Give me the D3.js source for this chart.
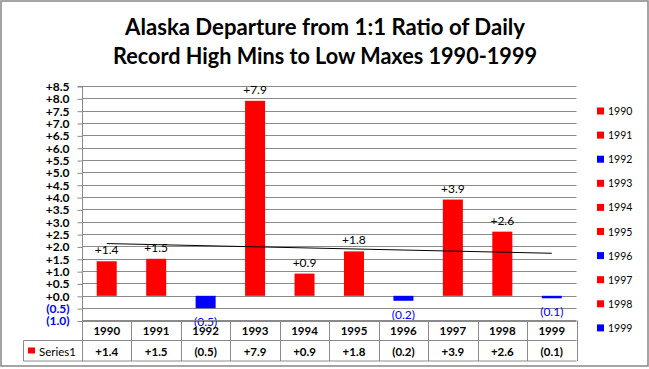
<!DOCTYPE html>
<html><head><meta charset="utf-8">
<script src="https://cdn.jsdelivr.net/npm/d3@7"></script>
<style>body{margin:0;background:#fff}svg{display:block}text{font-family:Lato,"Open Sans",sans-serif}</style>
</head><body>
<svg id="chart" width="649" height="369"></svg>
<script>
const titleLines = ["Alaska Departure from 1:1 Ratio of Daily", "Record High Mins to Low Maxes 1990-1999"];
const years = ["1990","1991","1992","1993","1994","1995","1996","1997","1998","1999"];
const values = [1.4, 1.5, -0.5, 7.9, 0.9, 1.8, -0.2, 3.9, 2.6, -0.1];
const yTickValues = [-1.0,-0.5,0.0,0.5,1.0,1.5,2.0,2.5,3.0,3.5,4.0,4.5,5.0,5.5,6.0,6.5,7.0,7.5,8.0,8.5];
const seriesName = "Series1";

const POS = "#FF0000", NEG = "#0000FF", GRID = "#8a8a8a";
const fmt = v => v < 0 ? "(" + d3.format(".1f")(-v) + ")" : "+" + d3.format(".1f")(v);
const color = v => v < 0 ? NEG : POS;

const svg = d3.select("#chart");
// outer border
svg.append("rect").attr("x",1).attr("y",1).attr("width",647).attr("height",365)
  .attr("fill","#fff").attr("stroke","#868686").attr("stroke-width",1.5);

// title
titleLines.forEach((t,i)=>{
  svg.append("text").attr("x",325).attr("y",34.5 + i*29).attr("text-anchor","middle")
    .attr("font-size",22).attr("font-weight","bold").attr("fill","#000")
    .attr("textLength", i===0 ? 400 : 424).attr("lengthAdjust","spacingAndGlyphs").text(t);
});

const left = 82, right = 576.5;
const x = d3.scaleBand().domain(years).range([left,right]).padding(0);
const y = d3.scaleLinear().domain([-1, 8.5]).range([320.5, 86]);

// gridlines
svg.append("g").selectAll("line").data(yTickValues).join("line")
  .attr("x1",left).attr("x2",right).attr("y1",d=>Math.round(y(d))+0.5).attr("y2",d=>Math.round(y(d))+0.5)
  .attr("stroke",GRID).attr("stroke-width",1);

// y axis
const yAxis = d3.axisLeft(y).tickValues(yTickValues).tickSize(5).tickPadding(8).tickFormat(fmt);
const gy = svg.append("g").attr("transform",`translate(${left+0.5},0.5)`).call(yAxis);
gy.select(".domain").attr("stroke",GRID).attr("d",`M-5,${y(8.5)}H0V${361}`);
gy.selectAll(".tick line").attr("stroke",GRID);
gy.selectAll(".tick text").attr("font-family","Lato").attr("font-size",12).attr("font-weight","bold")
  .attr("fill",d=>d<0?NEG:"#000");

// bars
const bw = 20;
const off = (x.bandwidth()-bw)/2;
svg.append("g").selectAll("rect").data(values).join("rect")
  .attr("x",(d,i)=>x(years[i])+off).attr("width",bw)
  .attr("y",d=>y(Math.max(0,d))).attr("height",d=>Math.abs(y(d)-y(0)))
  .attr("fill",d=>color(d));

// trendline (least squares)
const n = values.length, mx = d3.mean(d3.range(n)), my = d3.mean(values);
const slope = d3.sum(values,(v,i)=>(i-mx)*(v-my))/d3.sum(d3.range(n),i=>(i-mx)*(i-mx));
const icpt = my - slope*mx;
const cx = i => x(years[i]) + x.bandwidth()/2;
svg.append("line").attr("x1",cx(0)).attr("x2",cx(n-1))
  .attr("y1",y(icpt)).attr("y2",y(icpt+slope*(n-1)))
  .attr("stroke","#000").attr("stroke-width",1);

// data labels
svg.append("g").selectAll("text").data(values).join("text")
  .attr("x",(d,i)=>cx(i)).attr("text-anchor","middle")
  .attr("y",d=> d<0 ? y(d)+18 : y(d)-7)
  .attr("font-size",12).attr("fill",d=>d<0?NEG:"#000").text(fmt);

// data table
const rowTop = 320.5, rowMid = 340.5, rowBot = 361;
const tg = svg.append("g").attr("stroke",GRID).attr("stroke-width",1).attr("fill","none");
tg.append("line").attr("x1",left).attr("x2",right).attr("y1",rowTop).attr("y2",rowTop);
tg.append("line").attr("x1",23.5).attr("x2",right).attr("y1",rowMid).attr("y2",rowMid);
tg.append("line").attr("x1",23.5).attr("x2",right).attr("y1",rowBot).attr("y2",rowBot);
tg.append("line").attr("x1",23.5).attr("x2",23.5).attr("y1",rowMid).attr("y2",rowBot);
tg.selectAll(".v").data(years).join("line").attr("class","v")
  .attr("x1",d=>Math.round(x(d)+x.bandwidth())+0.5).attr("x2",d=>Math.round(x(d)+x.bandwidth())+0.5)
  .attr("y1",rowTop).attr("y2",rowBot);

svg.append("g").selectAll("text").data(years).join("text")
  .attr("x",(d,i)=>cx(i)).attr("y",335).attr("text-anchor","middle")
  .attr("font-size",11.5).attr("font-weight","bold").attr("fill","#000").text(d=>d);
svg.append("g").selectAll("text").data(values).join("text")
  .attr("x",(d,i)=>cx(i)).attr("y",355.5).attr("text-anchor","middle")
  .attr("font-size",11.5).attr("font-weight","bold").attr("fill","#000").text(fmt);
svg.append("rect").attr("x",28).attr("y",347.5).attr("width",7).attr("height",6).attr("fill",POS);
svg.append("text").attr("x",39).attr("y",355.5).attr("font-size",11.5).attr("fill","#000").text(seriesName);

// legend
const lg = svg.append("g").selectAll("g").data(years).join("g")
  .attr("transform",(d,i)=>`translate(597,${111 + i*24.1})`);
lg.append("rect").attr("x",0).attr("y",-3.5).attr("width",7).attr("height",7).attr("fill",(d,i)=>color(values[i]));
lg.append("text").attr("x",11).attr("y",4).attr("font-family","DejaVu Sans").attr("font-size",10.5).attr("fill","#000").text(d=>d);
</script>
</body></html>
